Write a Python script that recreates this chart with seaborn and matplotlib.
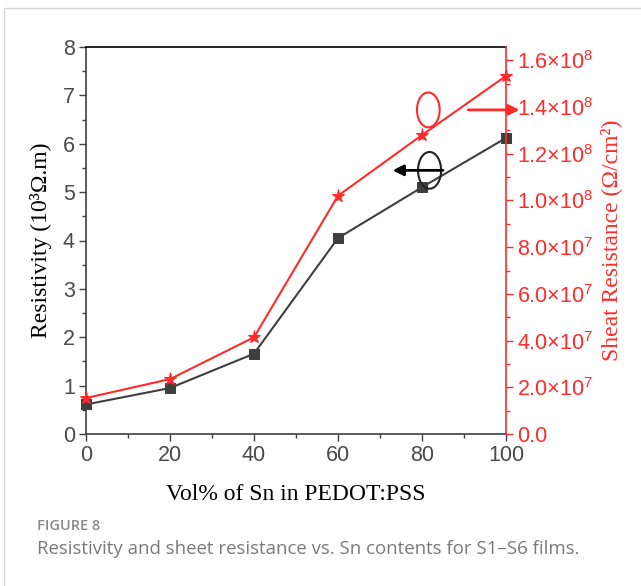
import numpy as np
import pandas as pd
import matplotlib
matplotlib.use("Agg")
import matplotlib.pyplot as plt
from matplotlib.patches import Ellipse, Rectangle
from matplotlib.ticker import MultipleLocator, FuncFormatter
import seaborn as sns

# Measured data for films S1-S6
vol_sn = [0, 20, 40, 60, 80, 100]
resistivity = [0.61, 0.95, 1.66, 4.05, 5.10, 6.12]          # 10^3 Ohm.m
sheet_resistance = [1.54e7, 2.35e7, 4.14e7, 1.02e8, 1.28e8, 1.533e8]  # Ohm/cm^2

x_label = "Vol% of Sn in PEDOT:PSS"
left_label = "Resistivity (10³Ω.m)"
right_label = "Sheat Resistance (Ω/cm²)"

sns.set_style("ticks")
plt.rcParams["font.family"] = ["Liberation Sans", "DejaVu Sans"]
plt.rcParams["mathtext.fontset"] = "custom"
plt.rcParams["mathtext.rm"] = "Liberation Sans"
plt.rcParams["mathtext.default"] = "regular"

BLACK = "#3f3f3f"
RED = "#ff2a2a"

fig = plt.figure(figsize=(6.41, 5.86), dpi=100)
fig.patch.set_facecolor("white")

# page frame
fig.add_artist(Rectangle((4 / 641, -0.1), 1.2, 1 - 8 / 586 + 0.1,
                         transform=fig.transFigure, fill=False,
                         edgecolor="#d9d9d9", linewidth=1.0))

ax = fig.add_axes([86 / 641, 1 - 434 / 586, 420 / 641, 387 / 586])
ax2 = ax.twinx()

df = pd.DataFrame({"vol": vol_sn, "rho": resistivity, "rs": sheet_resistance})

sns.lineplot(data=df, x="vol", y="rho", ax=ax, color=BLACK, marker="s",
             markersize=6.5, markeredgecolor=BLACK, linewidth=1.5,
             clip_on=False, zorder=3)
sns.lineplot(data=df, x="vol", y="rs", ax=ax2, color=RED, marker="*",
             markersize=9.5, markeredgecolor=RED, linewidth=1.5,
             clip_on=False, zorder=3)

ax.set_xlim(0, 100)
ax.set_ylim(0, 8)
ax2.set_ylim(0, 1.657e8)

ax.xaxis.set_major_locator(MultipleLocator(20))
ax.xaxis.set_minor_locator(MultipleLocator(10))
ax.yaxis.set_major_locator(MultipleLocator(1))
ax.yaxis.set_minor_locator(MultipleLocator(0.5))
ax2.yaxis.set_major_locator(MultipleLocator(2e7))
ax2.yaxis.set_minor_locator(MultipleLocator(1e7))


def sci_fmt(v, pos):
    if v <= 0:
        return "0.0" if abs(v) < 1 else ""
    exp = int(np.floor(np.log10(v)))
    mant = v / 10 ** exp
    return r"$%.1f{\times}10^{%d}$" % (mant, exp)


ax2.yaxis.set_major_formatter(FuncFormatter(sci_fmt))

for side in ["left", "bottom"]:
    ax.spines[side].set_color(BLACK)
ax.spines["top"].set_color("black")
ax.spines["right"].set_visible(False)
for side in ["left", "bottom", "top"]:
    ax2.spines[side].set_visible(False)
ax2.spines["right"].set_color(RED)
for a in (ax, ax2):
    for s in a.spines.values():
        s.set_linewidth(1.2)

ax.tick_params(axis="both", which="both", direction="out", colors=BLACK,
               labelsize=15.5, width=1.0, pad=3)
ax.tick_params(axis="both", which="major", labelcolor="#4a4a4a")
ax.tick_params(which="major", length=5)
ax.tick_params(which="minor", length=3)
ax2.tick_params(axis="y", which="both", direction="out", colors=RED,
                labelsize=15.5, width=1.0, pad=3)
ax2.tick_params(which="major", length=5)
ax2.tick_params(which="minor", length=3)

serif = ["Liberation Serif", "DejaVu Serif"]
ax.set_xlabel(x_label, family=serif, fontsize=17, color="black", labelpad=13)
ax.set_ylabel(left_label, family=serif, fontsize=17, color="black", labelpad=8)
ax2.set_ylabel(right_label, family=serif, fontsize=17, color=RED, labelpad=5)

# axis indicators: ellipses with arrows pointing toward each axis
ax.add_patch(Ellipse((81.5, 6.70), 5.4, 0.72, transform=ax.transData,
                     fill=False, edgecolor=RED, linewidth=1.5, clip_on=False,
                     zorder=4))
ax.add_patch(Ellipse((81.8, 5.45), 5.5, 0.76, transform=ax.transData,
                     fill=False, edgecolor="#222222", linewidth=1.5,
                     clip_on=False, zorder=4))
ax.annotate("", xy=(103.2, 6.70), xytext=(91.0, 6.70),
            arrowprops=dict(arrowstyle="-|>", color=RED, lw=2,
                            mutation_scale=16, shrinkA=0, shrinkB=0),
            annotation_clip=False, zorder=5)
ax.annotate("", xy=(73.0, 5.45), xytext=(85.0, 5.45),
            arrowprops=dict(arrowstyle="-|>", color="black", lw=2,
                            mutation_scale=16, shrinkA=0, shrinkB=0),
            annotation_clip=False, zorder=5)

cap = ["Open Sans", "DejaVu Sans"]
fig.text(37 / 641, 1 - 526 / 586, "FIGURE 8", family=cap, fontsize=10.5,
         fontweight="semibold", color="#8a8a8a", va="center", ha="left")
fig.text(37 / 641, 1 - 549 / 586,
         "Resistivity and sheet resistance vs. Sn contents for S1\u2013S6 films.",
         family=cap, fontsize=13.4, color="#7a7a7a", va="center", ha="left")

fig.savefig("out.png", dpi=100)
